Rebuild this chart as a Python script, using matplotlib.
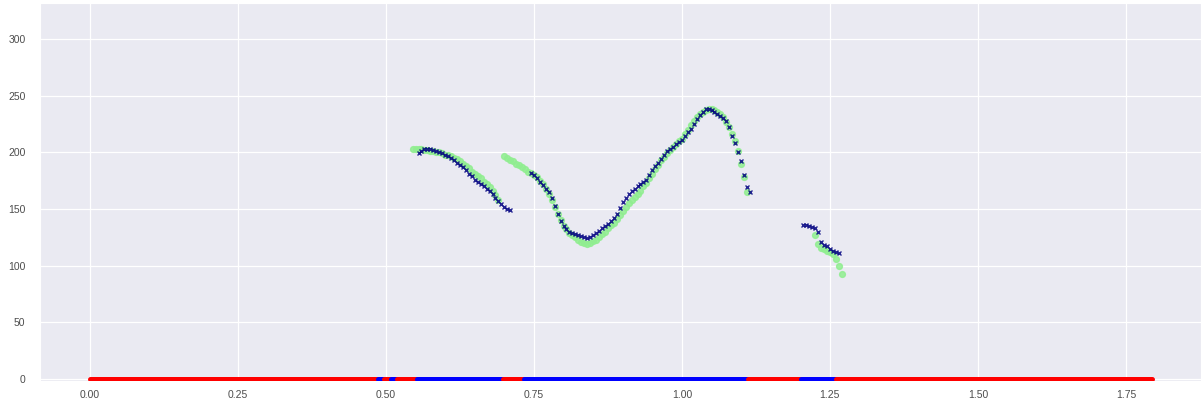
import numpy as np
import matplotlib
matplotlib.use("Agg")
import matplotlib.pyplot as plt
import seaborn as sns

# Reference pitch (green), one value every 5 ms
ref_start = [0.545, 0.700, 1.225]
ref_pitch = [
    [203, 203, 203, 203, 202, 202, 201, 201, 200, 200, 199, 198, 198, 197, 195,
     194, 192, 190, 188, 186, 183, 181, 179, 177, 174, 172, 169, 166, 162, 158],
    [197, 195, 193, 192, 190, 189, 187, 185, 183, 182, 180, 178, 175, 172, 168,
     163, 158, 152, 146, 140, 135, 132, 129, 127, 125, 123, 121, 120, 119, 120,
     122, 123, 125, 128, 130, 133, 136, 138, 141, 145, 148, 152, 155, 158, 161,
     163, 166, 170, 173, 177, 181, 185, 189, 193, 196, 199, 202, 205, 207, 210,
     212, 216, 220, 224, 228, 231, 234, 236, 237, 238, 238, 237, 236, 234, 231,
     227, 222, 216, 210, 201, 190, 178, 165],
    [127, 119, 116, 115, 113, 112, 110, 106, 100, 93],
]

# Estimated pitch (navy), one value every 5 ms
est_start = [0.555, 0.745, 1.205]
est_pitch = [
    [199, 201, 203, 203, 203, 202, 201, 200, 199, 198, 197, 195, 193, 191, 189,
     187, 184, 181, 179, 176, 174, 172, 170, 168, 166, 163, 160, 157, 154, 152,
     150, 149],
    [182, 180, 177, 174, 171, 168, 165, 160, 153, 146, 139, 135, 132, 130, 129,
     128, 127, 126, 125, 124, 125, 127, 129, 131, 133, 135, 137, 139, 142, 146,
     151, 156, 160, 163, 166, 168, 170, 172, 174, 176, 180, 184, 188, 191, 194,
     198, 201, 203, 205, 207, 209, 211, 214, 218, 221, 225, 229, 233, 236, 238,
     238, 237, 236, 234, 232, 230, 228, 222, 214, 208, 200, 192, 180, 169, 165],
    [136, 136, 135, 134, 133, 130, 121, 118, 117, 115, 113, 112, 111],
]

# Voicing decision along the bottom: (start, end, voiced)
voicing = [
    (0.000, 0.487, 0), (0.487, 0.497, 1), (0.497, 0.509, 0), (0.509, 0.519, 1),
    (0.519, 0.552, 0), (0.552, 0.697, 1), (0.697, 0.733, 0), (0.733, 1.112, 1),
    (1.112, 1.201, 0), (1.201, 1.261, 1), (1.261, 1.795, 0),
]

hop = 0.005

sns.set_style("darkgrid")
plt.rcParams["font.family"] = ["Liberation Sans", "DejaVu Sans"]

fig = plt.figure(figsize=(12.03, 4.03), dpi=100)
ax = fig.add_axes([40 / 1203, 1 - 381 / 403, 1161 / 1203, 378 / 403])

# voicing bar at y = 0
for start, end, voiced in voicing:
    ax.plot([start, end], [0, 0], color="blue" if voiced else "red",
            lw=3.6, solid_capstyle="round", zorder=3)

for t0, vals in zip(ref_start, ref_pitch):
    t = t0 + hop * np.arange(len(vals))
    ax.plot(t, vals, "o", color="lightgreen", ms=4.2, mec="lightgreen",
            alpha=0.85, zorder=4)

for t0, vals in zip(est_start, est_pitch):
    t = t0 + hop * np.arange(len(vals))
    ax.plot(t, vals, "x", color="navy", ms=3, mew=1.0, alpha=0.85, zorder=5)

ax.set_xlim(-0.0845, 1.877)
ax.set_ylim(-1.8, 331.8)
ax.set_xticks([0, 0.25, 0.5, 0.75, 1.0, 1.25, 1.5, 1.75])
ax.set_xticklabels(["0.00", "0.25", "0.50", "0.75", "1.00", "1.25", "1.50", "1.75"])
ax.set_yticks([0, 50, 100, 150, 200, 250, 300])
ax.tick_params(labelsize=7.5, colors="0.3")
ax.tick_params(axis="x", pad=3)
ax.tick_params(axis="y", pad=7)
ax.grid(lw=0.9)

fig.savefig("out.png", dpi=100)
